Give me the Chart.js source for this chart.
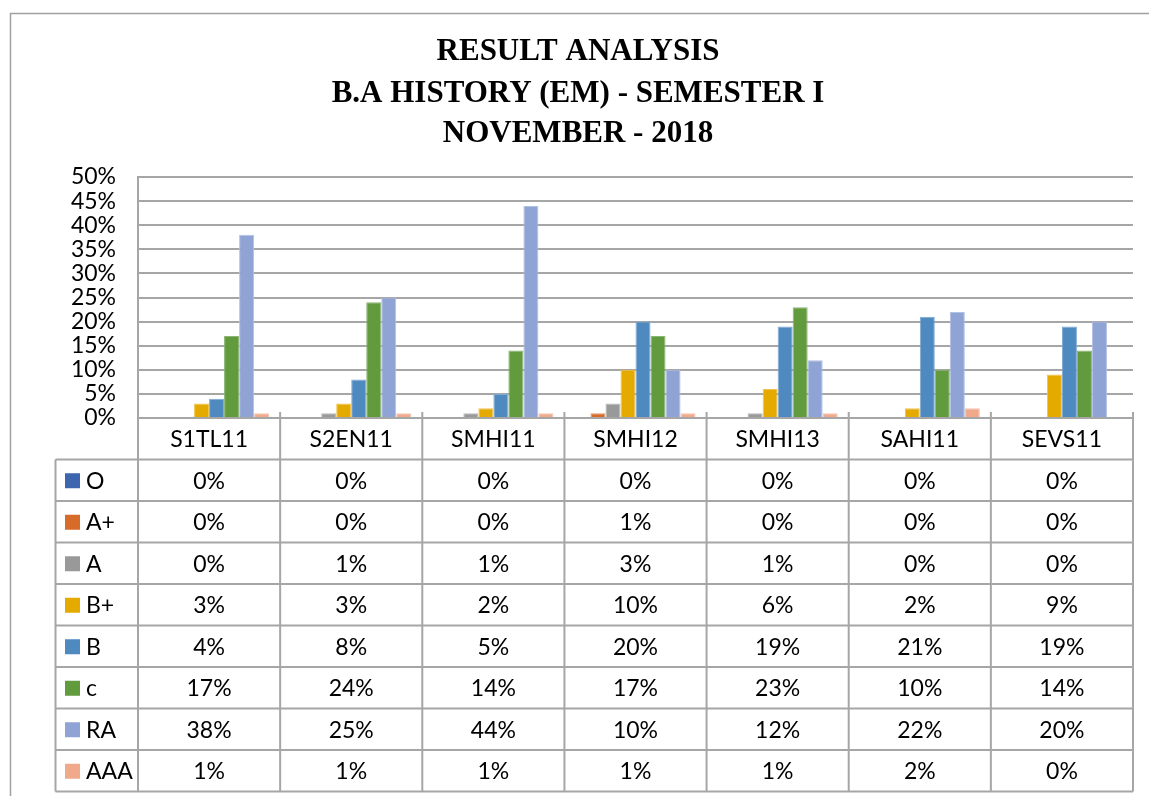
<!DOCTYPE html>
<html>
<head>
<meta charset="utf-8">
<title>Result Analysis</title>
<script src="https://cdn.jsdelivr.net/npm/chart.js@4/dist/chart.umd.min.js"></script>
<style>
    html, body { margin: 0; padding: 0; background: #fff; }
    #wrap { width: 1149px; height: 796px; }
</style>
</head>
<body>
<div id="wrap"><canvas id="resultChart" width="1149" height="796"></canvas></div>
<script>
// Chart data
const subjects = ['S1TL11', 'S2EN11', 'SMHI11', 'SMHI12', 'SMHI13', 'SAHI11', 'SEVS11'];
const grades = ['O', 'A+', 'A', 'B+', 'B', 'c', 'RA', 'AAA'];
const gradeO   = [0, 0, 0, 0, 0, 0, 0];
const gradeAP  = [0, 0, 0, 1, 0, 0, 0];
const gradeA   = [0, 1, 1, 3, 1, 0, 0];
const gradeBP  = [3, 3, 2, 10, 6, 2, 9];
const gradeB   = [4, 8, 5, 20, 19, 21, 19];
const gradeC   = [17, 24, 14, 17, 23, 10, 14];
const gradeRA  = [38, 25, 44, 10, 12, 22, 20];
const gradeAAA = [1, 1, 1, 1, 1, 2, 0];
const yTicks = [0, 5, 10, 15, 20, 25, 30, 35, 40, 45, 50];
const titleLines = ['RESULT ANALYSIS', 'B.A HISTORY (EM) - SEMESTER I', 'NOVEMBER - 2018'];

const seriesValues = [gradeO, gradeAP, gradeA, gradeBP, gradeB, gradeC, gradeRA, gradeAAA];
const colors = ['#3e66b0', '#d66b2a', '#999999', '#e5aa00', '#4e89bf', '#629a3e', '#8fa3d5', '#f1a98c'];
const borderColors = ['#6a88c4', '#e0956a', '#b8b8b8', '#efc350', '#80a9d3', '#8ab573', '#b2c0e3', '#f5c3ae'];

const gridColor = '#a6a6a6';
const labelFont = '23px Lato, "DejaVu Sans", sans-serif';

// Title, outer border and data table below the plot
const tablePlugin = {
    id: 'dataTable',
    beforeDraw(chart) {
        const c = chart.ctx;
        c.save();
        c.strokeStyle = '#a0a0a0';
        c.lineWidth = 1.5;
        c.strokeRect(10.5, 13.5, 1150, 800);
        c.fillStyle = '#000';
        c.font = 'bold 31px "Liberation Serif", "Times New Roman", serif';
        c.textAlign = 'center';
        c.textBaseline = 'alphabetic';
        const baselines = [60, 102, 142];
        titleLines.forEach((t, i) => c.fillText(t, 578, baselines[i]));
        c.restore();
    },
    afterDraw(chart) {
        const c = chart.ctx;
        const x = chart.scales.x;
        const area = chart.chartArea;
        const rowH = 41.5;
        const left = area.left;
        const right = area.right;
        const legLeft = 55.5;
        const top = area.bottom;
        const rows = grades.length;
        const bottom = top + rowH * (rows + 1);
        const colW = (right - left) / subjects.length;

        c.save();
        c.strokeStyle = gridColor;
        c.lineWidth = 2;

        // horizontal lines
        for (let r = 0; r <= rows + 1; r++) {
            const y = top + r * rowH;
            c.beginPath();
            c.moveTo(r === 0 ? left : legLeft, y);
            c.lineTo(right, y);
            c.stroke();
        }
        // vertical lines
        for (let i = 0; i <= subjects.length; i++) {
            const xx = left + i * colW;
            c.beginPath();
            c.moveTo(xx, i === 0 ? area.top : top - 6);
            c.lineTo(xx, bottom);
            c.stroke();
        }
        c.beginPath();
        c.moveTo(legLeft, top + rowH);
        c.lineTo(legLeft, bottom);
        c.stroke();

        c.fillStyle = '#000';
        c.font = labelFont;
        c.textBaseline = 'middle';
        c.textAlign = 'center';
        subjects.forEach((s, i) => {
            c.fillText(s, x.getPixelForValue(i), top + rowH / 2 + 1);
        });

        grades.forEach((g, r) => {
            const yMid = top + rowH * (r + 1) + rowH / 2 + 1;
            c.fillStyle = colors[r];
            c.fillRect(65, yMid - 8, 15, 15);
            c.fillStyle = '#000';
            c.textAlign = 'left';
            c.fillText(g, 86, yMid);
            c.textAlign = 'center';
            seriesValues[r].forEach((v, i) => {
                c.fillText(v + '%', x.getPixelForValue(i), yMid);
            });
        });
        c.restore();
    }
};

const ctx = document.getElementById('resultChart');
const resultChart = new Chart(ctx.getContext('2d'), {
    type: 'bar',
    data: {
        labels: subjects,
        datasets: grades.map((g, i) => ({
            label: g,
            data: seriesValues[i],
            backgroundColor: colors[i],
            borderColor: borderColors[i],
            borderWidth: 1,
            barPercentage: 1.0,
            categoryPercentage: 0.845
        }))
    },
    options: {
        responsive: false,
        animation: false,
        events: [],
        layout: {
            padding: { top: 177, right: 16, bottom: 378, left: 0 }
        },
        plugins: {
            legend: { display: false },
            title: { display: false },
            tooltip: { enabled: false }
        },
        scales: {
            x: {
                display: false
            },
            y: {
                min: 0,
                max: 50,
                afterFit(scale) { scale.width = 138; },
                afterBuildTicks(scale) { scale.ticks = yTicks.map(v => ({ value: v })); },
                ticks: {
                    color: '#000',
                    padding: 22,
                    autoSkip: false,
                    font: { family: 'Lato, "DejaVu Sans", sans-serif', size: 23 },
                    callback: v => v + '%'
                },
                grid: {
                    color: gridColor,
                    lineWidth: 2,
                    drawTicks: false
                },
                border: { display: true, color: gridColor, width: 2 }
            }
        }
    },
    plugins: [tablePlugin]
});
</script>
</body>
</html>
